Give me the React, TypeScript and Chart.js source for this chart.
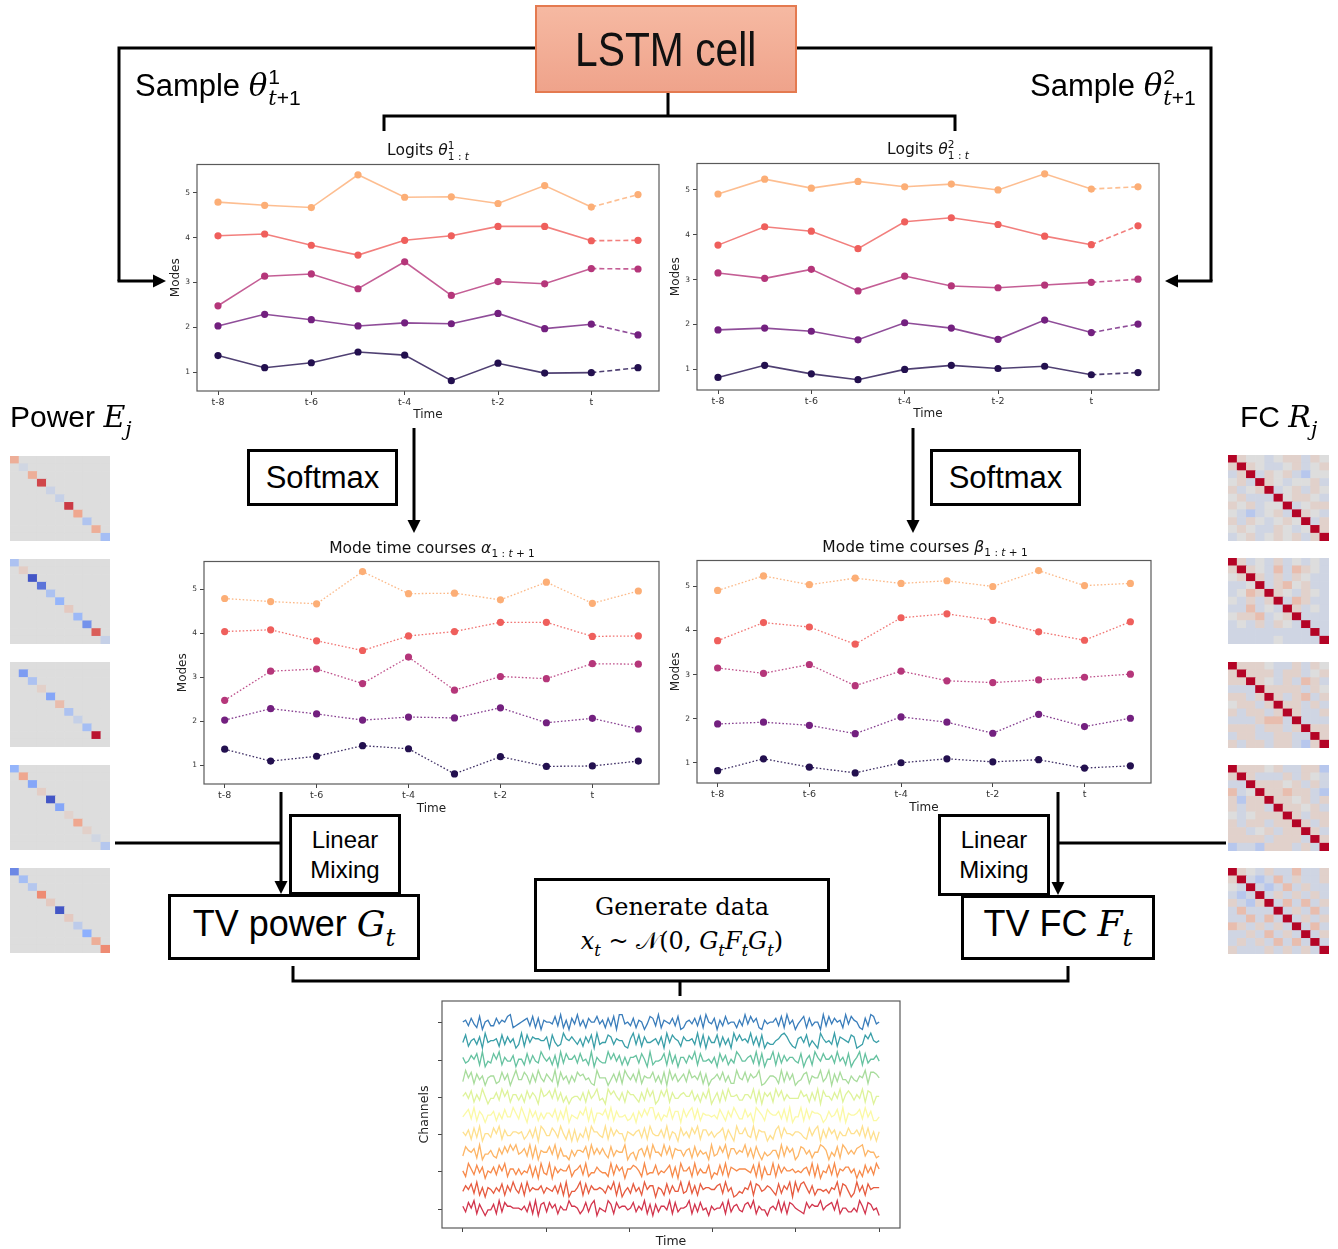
import React, { useEffect, useRef } from 'react';
import { Chart, registerables } from 'chart.js';

Chart.register(...registerables);

const MPL_FONT = '"DejaVu Sans", sans-serif';
const SANS = '"Liberation Sans", Arial, sans-serif';
const MATH = '"DejaVu Serif", "Liberation Serif", serif';

// ---------- mode charts ----------
const TIME_TICK_POS = [0, 2, 4, 6, 8];
const TIME_TICK_LABELS = ['t-8', 't-6', 't-4', 't-2', 't'];
const MODE_TICKS = [1, 2, 3, 4, 5];
const MODE_COLORS = ['#23104f', '#73207f', '#b5367a', '#ef5f5c', '#fcae76'];

// Logits theta^1 (and alpha, identical values in the figure)
const THETA1_M1 = [1.37, 1.1, 1.21, 1.45, 1.38, 0.81, 1.2, 0.98, 0.99, 1.1];
const THETA1_M2 = [2.03, 2.29, 2.17, 2.03, 2.1, 2.08, 2.31, 1.97, 2.07, 1.83];
const THETA1_M3 = [2.48, 3.14, 3.19, 2.86, 3.46, 2.71, 3.02, 2.97, 3.31, 3.3];
const THETA1_M4 = [4.04, 4.08, 3.83, 3.61, 3.94, 4.04, 4.25, 4.25, 3.93, 3.94];
const THETA1_M5 = [4.79, 4.72, 4.67, 5.4, 4.9, 4.91, 4.76, 5.16, 4.68, 4.96];

// Logits theta^2 (and beta)
const THETA2_M1 = [0.82, 1.09, 0.9, 0.77, 1.0, 1.09, 1.02, 1.07, 0.88, 0.93];
const THETA2_M2 = [1.88, 1.92, 1.85, 1.66, 2.04, 1.92, 1.67, 2.1, 1.82, 2.01];
const THETA2_M3 = [3.15, 3.03, 3.23, 2.75, 3.08, 2.86, 2.82, 2.88, 2.94, 3.01];
const THETA2_M4 = [3.77, 4.18, 4.08, 3.69, 4.29, 4.38, 4.23, 3.97, 3.78, 4.2];
const THETA2_M5 = [4.91, 5.24, 5.04, 5.19, 5.07, 5.13, 5.0, 5.36, 5.02, 5.07];

const THETA1_SERIES = [THETA1_M1, THETA1_M2, THETA1_M3, THETA1_M4, THETA1_M5];
const THETA2_SERIES = [THETA2_M1, THETA2_M2, THETA2_M3, THETA2_M4, THETA2_M5];
const ALPHA_SERIES = THETA1_SERIES;
const BETA_SERIES = THETA2_SERIES;

// ---------- matrices ----------
const POWER_E1_DIAG = [0.35, -0.08, 0.35, 0.78, -0.12, -0.15, 0.82, 0.4, -0.28, 0.35, -0.35];
const POWER_E2_DIAG = [-0.3, 0.12, -0.95, -0.8, -0.3, -0.45, 0.15, -0.4, -0.65, 0.7, -0.15];
const POWER_E3_DIAG = [0, -0.6, -0.3, 0.1, -0.55, 0.25, -0.3, -0.15, -0.35, 0.95, 0];
const POWER_E4_DIAG = [-0.45, 0.4, -0.55, 0.12, -0.95, -0.55, 0.08, 0.4, 0.1, -0.08, -0.25];
const POWER_E5_DIAG = [-0.7, -0.35, -0.25, 0.55, 0.15, -0.95, 0.15, -0.2, -0.5, 0.35, 0.55];
const POWER_DIAGS = [POWER_E1_DIAG, POWER_E2_DIAG, POWER_E3_DIAG, POWER_E4_DIAG, POWER_E5_DIAG];

// FC: X diag, R/r light red, b/B light blue, . neutral
const FC_R1 = [
  'Xr..b.rrbr.', 'rXr.bb.rb.r', 'brXbr.rbB..', '.rbXr.b..rb', 'rb.rXb.rbr.', '.rbbbX.rr.b',
  'r.rb..Xb.rr', '.bBb.rbXr.b', 'rbr.b.r.Xbr', '.r.bbr.b.Xr', 'b.rb.r.rbrX',
];
const FC_R2 = [
  'Xrb.brb.b.b', 'rXr.bRbRr.b', '.rXrbrbr.bb', 'bb.XbrR.rbb', 'b.RrXr.br.b', '.brbrXbRrbb',
  'bbRb.bXrb.b', '.rrRb.rXbbb', 'b.brbr.bXbb', 'bbbbbbbbbXb', 'bbbbb.bbbbX',
];
const FC_R3 = [
  'Xrrr.bbrbr.', 'rXrrrbrrb.r', 'rrXr.brbRrb', 'bbbXrrrrbr.', 'rrbrXrbrRbr', '.rrbrXrrbrb',
  'rbrrbrXrbbr', 'bbbrRRbXbbb', 'rrrbrrbrXrr', 'brrbbrrbbXr', 'rbrrbrrbBrX',
];
const FC_R4 = [
  'Xrrr.rbbrrB', 'rXrbbbrbr.b', 'bbXrrr.rbrb', 'Rb.XrrRrrbB', 'rBrrXrr.rbr', 'rbrrbXrr.rb',
  '.b.rrrXrbrr', 'rbrrbrrXrbr', 'rrb.rbrrXrb', 'rrrrbrrrbXr', 'BbbBrrrbrbX',
];
const FC_R5 = [
  'Xr.brbbRbbr', 'rXbBbRbrbbr', '.bXbBbRbrbb', 'bBbXbrbrbrb', 'rbBrXbRbRbr', 'bRbbbXbrbRb',
  'bbRbRbXbrbr', 'RrbrbrbXbRb', 'bbrbRbrbXbr', 'brbrbRbRbXb', 'rbbbrbrbrbX',
];
const FC_MATRICES = [FC_R1, FC_R2, FC_R3, FC_R4, FC_R5];
const FC_LEVELS: Record<string, number> = { X: 1, R: 0.24, r: 0.09, '.': 0, b: -0.09, B: -0.24 };

// ---------- channel signals ----------
const CHANNEL_COLORS = [
  '#3a7dbb', '#3a9fa8', '#66c2a0', '#a8dc9c', '#def39a', '#fbf9a4',
  '#fee08e', '#fdb566', '#f78a4a', '#e65b3f', '#d2344c',
];
const CHANNEL_OFFSETS = [10, 9, 8, 7, 6, 5, 4, 3, 2, 1, 0];
const SIG_01 = '5637428156 3374658923 4567382716 5548392617 4936275584 6273819945 3726514873 9265473812 5647382954 7163845526 3948572164 5573829461 4682735519 3847562948 6521739845';
const SIG_02 = '4825637194 5562837461 3928476655 7184239657 5362748193 4487365521 6938274456 3719486527 5563928174 4827361958 5649372814 3356897421 6748253196 4539276548 7123869545';
const SIG_03 = '6347582914 3859264471 5528374396 4627193855 7384529164 3395847262 6673851924 4582937166 3759284453 6184725397 4467392815 5928374664 3815729648 5573946281 4692835574';
const SIG_04 = '3958274615 6623847159 4486273953 7539184626 3867452195 5514738296 4739265583 6281947357 3956482714 5748362295 4837569124 6652938471 3478265593 5917384426 4365928875';
const SIG_05 = '5748263951 4473958266 3628475195 6849372514 5537284693 4196853728 6642739581 3859274467 5583627491 4728395563 3664928175 7295836444 4856273918 5537492686 3649287155';
const SIG_06 = '4683927515 5726384496 3951847263 6648273915 4375928166 5839274452 3617485993 6254937718 4793826554 5385274963 3846197528 6557382914 4928376651 3745829165 5683947224';
const SIG_07 = '6472839155 3859274466 5624738197 4486395271 7153829664 3928475516 5467382954 4739265184 6385927746 3568274195 5843927661 4279385546 6532847917 3857264485 5749382616';
const SIG_08 = '3865729144 6327485969 4573928165 5849273316 3665829474 7428365591 4516738295 5394827663 6728364519 3485927746 5937284153 4662938571 3874625598 6153829746 4789365523';
const SIG_09 = '5296384715 4738592663 6354827194 3917465582 5683924475 4429385716 6875293448 3546827195 5729364481 4383927656 6654829173 3928475564 5467392815 4839265774 6152847396';
const SIG_10 = '4758392616 5364827495 3829465573 6547382914 4692837556 5375928146 3846295771 6528374493 4937285665 5783946124 3659287457 6428375919 4896372554 5365928741 3947285666';
const SIG_11 = '6385927414 4729386655 5463829178 3857264496 6524837915 4397285664 5836492717 3664928355 6927384516 4558293674 3785926441 5649382875 4328576694 6784925533 5396287451';
const CHANNEL_SIGNALS = [SIG_01, SIG_02, SIG_03, SIG_04, SIG_05, SIG_06, SIG_07, SIG_08, SIG_09, SIG_10, SIG_11];
const CHANNEL_TICKS = [0, 2, 4, 6, 8, 10];
const TIME_SPAN = 1000;
const TIME_TICKS = [0, 200, 400, 600, 800, 1000];

// ---------- helpers ----------
const COOLWARM: [number, number[]][] = [
  [-1, [59, 76, 192]],
  [-0.5, [141, 176, 254]],
  [0, [221, 221, 221]],
  [0.5, [244, 154, 123]],
  [1, [180, 4, 38]],
];
function coolwarm(v: number) {
  const x = Math.max(-1, Math.min(1, v));
  for (let i = 0; i < COOLWARM.length - 1; i++) {
    const [a, ca] = COOLWARM[i];
    const [b, cb] = COOLWARM[i + 1];
    if (x >= a && x <= b) {
      const t = (x - a) / (b - a);
      const c = ca.map((c0, k) => Math.round(c0 + (cb[k] - c0) * t));
      return `rgb(${c[0]},${c[1]},${c[2]})`;
    }
  }
  return 'rgb(221,221,221)';
}

const framePlugin = {
  id: 'frame',
  afterDraw(chart: any) {
    const { ctx, chartArea } = chart;
    const { left, top, right, bottom } = chartArea;
    ctx.save();
    ctx.strokeStyle = '#5a5a5a';
    ctx.lineWidth = 1.2;
    ctx.strokeRect(left, top, right - left, bottom - top);
    ctx.restore();
  },
};

type ModeChartProps = {
  left: number;
  top: number;
  width: number;
  height: number;
  xAxisHeight: number;
  timeTitlePad: number;
  series: number[][];
  style: 'dashedLast' | 'dotted';
};

function ModeChart({ left, top, width, height, xAxisHeight, timeTitlePad, series, style }: ModeChartProps) {
  const ref = useRef<HTMLCanvasElement>(null);
  useEffect(() => {
    const all = series.flat();
    const lo = Math.min(...all);
    const hi = Math.max(...all);
    const pad = (hi - lo) * 0.05;
    const n = series[0].length;
    const chart = new Chart(ref.current as HTMLCanvasElement, {
      type: 'line',
      data: {
        datasets: series.map((vals, k) => ({
          data: vals.map((v, i) => ({ x: i, y: v })),
          borderColor: MODE_COLORS[k] + (style === 'dotted' ? 'dd' : 'cc'),
          backgroundColor: MODE_COLORS[k],
          pointBackgroundColor: MODE_COLORS[k],
          pointBorderColor: MODE_COLORS[k],
          pointBorderWidth: 0,
          pointRadius: 3.6,
          borderWidth: style === 'dotted' ? 1.3 : 1.6,
          borderDash: style === 'dotted' ? [1.6, 2.0] : [],
          tension: 0,
          segment: {
            borderDash: (ctx: any) =>
              style === 'dashedLast' && ctx.p0DataIndex >= n - 2 ? [5, 3] : style === 'dotted' ? [1.6, 2.0] : undefined,
          },
        })),
      },
      options: {
        responsive: false,
        animation: false,
        events: [],
        layout: { padding: { top: 5, right: 11, left: 0, bottom: 0 } },
        plugins: { legend: { display: false }, tooltip: { enabled: false } },
        scales: {
          x: {
            type: 'linear',
            min: -(n - 1) * 0.05,
            max: (n - 1) * 1.05,
            afterFit: (s: any) => {
              s.height = xAxisHeight;
            },
            afterBuildTicks: (s: any) => {
              s.ticks = TIME_TICK_POS.map((v) => ({ value: v }));
            },
            ticks: {
              autoSkip: false,
              maxRotation: 0,
              padding: 2,
              color: '#333',
              font: { family: MPL_FONT, size: 9.5 },
              callback: (_v: any, i: number) => TIME_TICK_LABELS[i],
            },
            grid: { drawOnChartArea: false, drawTicks: true, tickLength: 4, color: '#444' },
            border: { display: false },
            title: {
              display: true,
              text: 'Time',
              color: '#222',
              font: { family: MPL_FONT, size: 12 },
              padding: { top: 0, bottom: timeTitlePad },
            },
          },
          y: {
            type: 'linear',
            min: lo - pad,
            max: hi + pad,
            afterFit: (s: any) => {
              s.width = 37;
            },
            afterBuildTicks: (s: any) => {
              s.ticks = MODE_TICKS.map((v) => ({ value: v }));
            },
            ticks: {
              padding: 3,
              color: '#333',
              font: { family: MPL_FONT, size: 7.5 },
              callback: (v: any) => String(v),
            },
            grid: { drawOnChartArea: false, drawTicks: true, tickLength: 4, color: '#444' },
            border: { display: false },
            title: {
              display: true,
              text: 'Modes',
              color: '#222',
              font: { family: MPL_FONT, size: 12 },
              padding: { top: 9, bottom: 0 },
            },
          },
        },
      },
      plugins: [framePlugin],
    } as any);
    return () => chart.destroy();
  }, []);
  return <canvas ref={ref} width={width} height={height} style={{ position: 'absolute', left, top, width, height }} />;
}

function ChannelsChart() {
  const ref = useRef<HTMLCanvasElement>(null);
  useEffect(() => {
    const chart = new Chart(ref.current as HTMLCanvasElement, {
      type: 'line',
      data: {
        datasets: CHANNEL_SIGNALS.map((sig, k) => {
          const d = sig.replace(/\s/g, '').split('').map(Number);
          return {
            data: d.map((v, i) => ({ x: (i / (d.length - 1)) * TIME_SPAN, y: CHANNEL_OFFSETS[k] + (v - 4.5) * 0.1 })),
            borderColor: CHANNEL_COLORS[k],
            borderWidth: 1.3,
            pointRadius: 0,
            tension: 0,
          };
        }),
      },
      options: {
        responsive: false,
        animation: false,
        events: [],
        layout: { padding: { top: 5, right: 11, left: 0, bottom: 0 } },
        plugins: { legend: { display: false }, tooltip: { enabled: false } },
        scales: {
          x: {
            type: 'linear',
            min: -TIME_SPAN * 0.05,
            max: TIME_SPAN * 1.05,
            afterFit: (s: any) => {
              s.height = 21;
            },
            afterBuildTicks: (s: any) => {
              s.ticks = TIME_TICKS.map((v) => ({ value: v }));
            },
            ticks: { display: true, padding: 0, font: { size: 1 }, callback: () => '' },
            grid: { drawOnChartArea: false, drawTicks: true, tickLength: 4, color: '#444' },
            border: { display: false },
            title: {
              display: true,
              text: 'Time',
              color: '#222',
              font: { family: MPL_FONT, size: 12.5 },
              padding: { top: 0, bottom: 0 },
            },
          },
          y: {
            type: 'linear',
            min: -1.02,
            max: 11.18,
            afterFit: (s: any) => {
              s.width = 37;
            },
            afterBuildTicks: (s: any) => {
              s.ticks = CHANNEL_TICKS.map((v) => ({ value: v }));
            },
            ticks: { display: true, padding: 0, font: { size: 1 }, callback: () => '' },
            grid: { drawOnChartArea: false, drawTicks: true, tickLength: 4, color: '#444' },
            border: { display: false },
            title: {
              display: true,
              text: 'Channels',
              color: '#222',
              font: { family: MPL_FONT, size: 12.5 },
              padding: { top: 12, bottom: 0 },
            },
          },
        },
      },
      plugins: [framePlugin],
    } as any);
    return () => chart.destroy();
  }, []);
  return (
    <canvas ref={ref} width={506} height={253} style={{ position: 'absolute', left: 405, top: 996, width: 506, height: 253 }} />
  );
}

function HeatMap({ left, top, width, height, rows }: { left: number; top: number; width: number; height: number; rows: number[][] }) {
  const ref = useRef<HTMLCanvasElement>(null);
  useEffect(() => {
    const nRows = rows.length;
    const chart = new Chart(ref.current as HTMLCanvasElement, {
      type: 'bar',
      data: {
        labels: rows[0].map((_, j) => String(j)),
        datasets: rows
          .slice()
          .reverse()
          .map((row) => ({
            data: row.map(() => 1),
            backgroundColor: row.map((v) => coolwarm(v)),
            borderWidth: 0,
            barPercentage: 1,
            categoryPercentage: 1,
          })),
      },
      options: {
        responsive: false,
        animation: false,
        events: [],
        layout: { padding: 0 },
        plugins: { legend: { display: false }, tooltip: { enabled: false } },
        scales: {
          x: { display: false, stacked: true },
          y: { display: false, stacked: true, min: 0, max: nRows },
        },
      },
    } as any);
    return () => chart.destroy();
  }, []);
  return <canvas ref={ref} width={width} height={height} style={{ position: 'absolute', left, top, width, height }} />;
}

// ---------- text helpers ----------
const V = ({ c, family = MATH }: { c: string; family?: string }) => (
  <span style={{ fontFamily: family, fontStyle: 'italic' }}>{c}</span>
);

const Stack = ({ sup, sub, gap = 0.04 }: { sup?: React.ReactNode; sub: React.ReactNode; gap?: number }) => (
  <span
    style={{
      display: 'inline-block',
      verticalAlign: sup !== undefined ? '-0.45em' : '-0.42em',
      fontSize: '0.68em',
      lineHeight: 1,
      textAlign: 'left',
      marginLeft: `${gap}em`,
    }}
  >
    {sup !== undefined && <span style={{ display: 'block' }}>{sup}</span>}
    <span style={{ display: 'block' }}>{sub}</span>
  </span>
);

const boxStyle = (left: number, top: number, w: number, h: number): React.CSSProperties => ({
  position: 'absolute',
  left,
  top,
  width: w,
  height: h,
  border: '3px solid #000',
  boxSizing: 'border-box',
  background: '#fff',
  display: 'flex',
  flexDirection: 'column',
  alignItems: 'center',
  justifyContent: 'center',
  fontFamily: SANS,
  color: '#000',
  whiteSpace: 'nowrap',
});

function Arrow({ x1, y1, x2, y2 }: { x1: number; y1: number; x2: number; y2: number }) {
  const L = 13;
  const W = 6.5;
  const dx = x2 - x1;
  const dy = y2 - y1;
  const len = Math.hypot(dx, dy);
  const ux = dx / len;
  const uy = dy / len;
  const bx = x2 - ux * L;
  const by = y2 - uy * L;
  const px = -uy * W;
  const py = ux * W;
  return (
    <g>
      <line x1={x1} y1={y1} x2={bx} y2={by} stroke="#000" strokeWidth={3} />
      <polygon points={`${x2},${y2} ${bx + px},${by + py} ${bx - px},${by - py}`} fill="#000" />
    </g>
  );
}

const POWER_TOPS = [456, 559, 662, 765, 868];
const FC_TOPS = [455, 558, 662, 765, 868];

export default function App() {
  const powerRows = POWER_DIAGS.map((diag) => diag.map((_, i) => diag.map((v, j) => (i === j ? v : 0))));
  const fcRows = FC_MATRICES.map((m) => m.map((row) => row.split('').map((ch) => FC_LEVELS[ch] ?? 0)));

  const titleStyle = (center: number, top: number): React.CSSProperties => ({
    position: 'absolute',
    left: center - 150,
    width: 300,
    top,
    textAlign: 'center',
    fontFamily: MPL_FONT,
    fontSize: 15.5,
    lineHeight: '20px',
    color: '#111',
    whiteSpace: 'nowrap',
  });

  return (
    <div
      style={{
        position: 'absolute',
        left: 0,
        top: 0,
        width: 1338,
        height: 1249,
        background: '#fff',
        overflow: 'hidden',
        fontFamily: SANS,
        color: '#000',
      }}
    >
      {/* mode charts */}
      <ModeChart left={160} top={157} width={510} height={270} xAxisHeight={36} timeTitlePad={5} series={THETA1_SERIES} style="dashedLast" />
      <ModeChart left={660} top={156} width={510} height={270} xAxisHeight={36} timeTitlePad={5} series={THETA2_SERIES} style="dashedLast" />
      <ModeChart left={167} top={554} width={503} height={265} xAxisHeight={35} timeTitlePad={3} series={ALPHA_SERIES} style="dotted" />
      <ModeChart left={660} top={553} width={502} height={265} xAxisHeight={35} timeTitlePad={3} series={BETA_SERIES} style="dotted" />

      <ChannelsChart />

      {POWER_TOPS.map((t, k) => (
        <HeatMap key={'p' + k} left={10} top={t} width={100} height={85} rows={powerRows[k]} />
      ))}
      {FC_TOPS.map((t, k) => (
        <HeatMap key={'f' + k} left={1228} top={t} width={101} height={86} rows={fcRows[k]} />
      ))}

      {/* chart titles */}
      <div style={titleStyle(428, 140)}>
        Logits <V c="θ" family={MPL_FONT} />
        <Stack sup="1" sub={<>1 : <V c="t" family={MPL_FONT} /></>} gap={0.02} />
      </div>
      <div style={titleStyle(928, 139)}>
        Logits <V c="θ" family={MPL_FONT} />
        <Stack sup="2" sub={<>1 : <V c="t" family={MPL_FONT} /></>} gap={0.02} />
      </div>
      <div style={titleStyle(432, 538)}>
        Mode time courses <V c="α" family={MPL_FONT} />
        <Stack sub={<>1 : <V c="t" family={MPL_FONT} /> + 1</>} gap={0.02} />
      </div>
      <div style={titleStyle(925, 537)}>
        Mode time courses <V c="β" family={MPL_FONT} />
        <Stack sub={<>1 : <V c="t" family={MPL_FONT} /> + 1</>} gap={0.02} />
      </div>

      {/* connectors */}
      <svg width={1338} height={1249} style={{ position: 'absolute', left: 0, top: 0 }}>
        <path d="M119 281 V48 H536" fill="none" stroke="#000" strokeWidth={3} />
        <path d="M796 48 H1211 V281" fill="none" stroke="#000" strokeWidth={3} />
        <Arrow x1={117.5} y1={281} x2={166} y2={281} />
        <Arrow x1={1212.5} y1={281} x2={1165} y2={281} />
        <path d="M668 93 V116 M384 131 V116 H955 V131" fill="none" stroke="#000" strokeWidth={3} />
        <Arrow x1={414} y1={428} x2={414} y2={533} />
        <Arrow x1={913} y1={428} x2={913} y2={533} />
        <Arrow x1={281} y1={792} x2={281} y2={894} />
        <line x1={115} y1={843} x2={282} y2={843} stroke="#000" strokeWidth={3} />
        <Arrow x1={1058} y1={792} x2={1058} y2={895} />
        <line x1={1057} y1={843} x2={1226} y2={843} stroke="#000" strokeWidth={3} />
        <path d="M293 966 V981 H1068 V966 M680 981 V996" fill="none" stroke="#000" strokeWidth={3} />
      </svg>

      {/* LSTM cell */}
      <div
        style={{
          position: 'absolute',
          left: 535,
          top: 5,
          width: 262,
          height: 88,
          boxSizing: 'border-box',
          border: '2px solid #e47a50',
          background: 'linear-gradient(#f6b9a2, #efa38b)',
          display: 'flex',
          alignItems: 'center',
          justifyContent: 'center',
        }}
      >
        <span style={{ fontFamily: SANS, fontSize: 48, display: 'inline-block', transform: 'scaleX(0.85)', color: '#111', whiteSpace: 'nowrap' }}>
          LSTM cell
        </span>
      </div>

      {/* Sample labels */}
      <div style={{ position: 'absolute', left: 135, top: 66, fontSize: 31, lineHeight: '34px', whiteSpace: 'nowrap' }}>
        Sample <V c="θ" />
        <Stack sup="1" sub={<><V c="t" />+1</>} />
      </div>
      <div style={{ position: 'absolute', left: 1030, top: 66, fontSize: 31, lineHeight: '34px', whiteSpace: 'nowrap' }}>
        Sample <V c="θ" />
        <Stack sup="2" sub={<><V c="t" />+1</>} />
      </div>

      {/* Power / FC labels */}
      <div style={{ position: 'absolute', left: 10, top: 400, fontSize: 30, lineHeight: '34px', whiteSpace: 'nowrap' }}>
        Power <V c="E" />
        <Stack sub={<V c="j" />} gap={0} />
      </div>
      <div style={{ position: 'absolute', left: 1240, top: 400, fontSize: 30, lineHeight: '34px', whiteSpace: 'nowrap' }}>
        FC <V c="R" />
        <Stack sub={<V c="j" />} gap={0} />
      </div>

      {/* Softmax boxes */}
      <div style={boxStyle(247, 449, 151, 57)}>
        <span style={{ fontSize: 31 }}>Softmax</span>
      </div>
      <div style={boxStyle(930, 449, 151, 57)}>
        <span style={{ fontSize: 31 }}>Softmax</span>
      </div>

      {/* Linear mixing */}
      <div style={{ ...boxStyle(289, 814, 112, 81), fontSize: 24, lineHeight: '30px' }}>
        <span>Linear</span>
        <span>Mixing</span>
      </div>
      <div style={{ ...boxStyle(938, 814, 112, 82), fontSize: 24, lineHeight: '30px' }}>
        <span>Linear</span>
        <span>Mixing</span>
      </div>

      {/* TV power / TV FC */}
      <div style={boxStyle(168, 894, 252, 66)}>
        <span style={{ fontSize: 36, lineHeight: '40px' }}>
          TV power <V c="G" />
          <Stack sub={<V c="t" />} gap={0} />
        </span>
      </div>
      <div style={boxStyle(961, 895, 194, 65)}>
        <span style={{ fontSize: 36, lineHeight: '40px' }}>
          TV FC <V c="F" />
          <Stack sub={<V c="t" />} gap={0} />
        </span>
      </div>

      {/* Generate data */}
      <div style={{ ...boxStyle(534, 878, 296, 94), fontFamily: MATH, fontSize: 24 }}>
        <span style={{ lineHeight: '34px' }}>Generate data</span>
        <span style={{ lineHeight: '34px' }}>
          <V c="x" />
          <Stack sub={<V c="t" />} gap={0} /> ~ 𝒩(0, <V c="G" />
          <Stack sub={<V c="t" />} gap={0} />
          <V c="F" />
          <Stack sub={<V c="t" />} gap={0} />
          <V c="G" />
          <Stack sub={<V c="t" />} gap={0} />)
        </span>
      </div>
    </div>
  );
}
